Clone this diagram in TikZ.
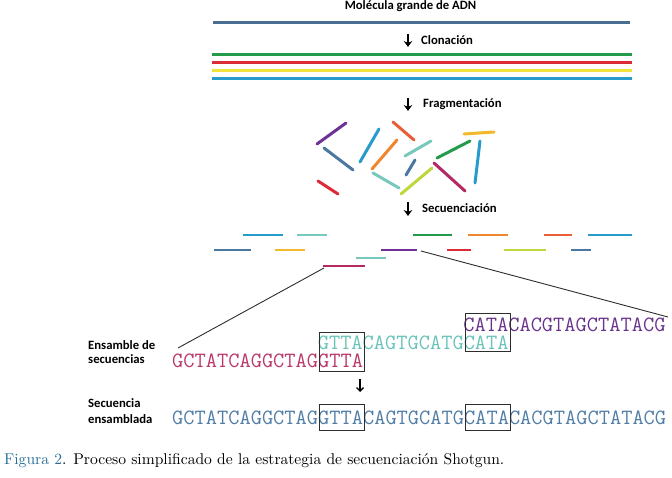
\documentclass[tikz,border=0pt]{standalone}
\usepackage{fontspec}
\usepackage{xcolor}
\usepackage{tikz}
\usetikzlibrary{arrows.meta,positioning}
\newfontfamily\calib{Carlito}
\newfontfamily\pief{lmroman10-regular.otf}
\definecolor{adn}{RGB}{74,110,145}
\definecolor{verde}{RGB}{35,155,75}
\definecolor{rojo}{RGB}{220,45,55}
\definecolor{amarillo}{RGB}{240,228,60}
\definecolor{celeste}{RGB}{40,155,205}
\definecolor{morado}{RGB}{110,50,150}
\definecolor{azulgris}{RGB}{75,120,160}
\definecolor{naranja}{RGB}{240,135,45}
\definecolor{naranjarojo}{RGB}{232,95,55}
\definecolor{turquesa}{RGB}{120,200,190}
\definecolor{lima}{RGB}{190,215,60}
\definecolor{ambar}{RGB}{242,185,45}
\definecolor{magenta}{RGB}{180,40,100}
\definecolor{secmag}{RGB}{185,55,105}
\definecolor{secturq}{RGB}{105,195,185}
\definecolor{secmor}{RGB}{105,50,140}
\definecolor{secazul}{RGB}{80,125,165}
\definecolor{capazul}{RGB}{40,110,150}
\definecolor{gris}{RGB}{45,45,45}

\begin{document}
\begin{tikzpicture}[x=1pt,y=-1pt,
    etiq/.style={font=\calib\bfseries\fontsize{12.7}{15}\selectfont,inner sep=0pt,anchor=base west},
    sec/.style={font=\ttfamily\fontsize{21.8}{24}\selectfont,inner sep=0pt,anchor=base west},
    flecha/.style={-{Stealth[length=6pt,width=8.5pt]},line width=2.2pt},
    flechita/.style={-{Straight Barb[length=3.5pt,width=7pt]},line width=1.4pt},
    caja/.style={draw=gris,line width=0.9pt,minimum width=45pt,inner sep=0pt},
    hebra/.style={line width=2.7pt},
    frag/.style={line width=3pt,line cap=round},
    lect/.style={line width=2.7pt}]
    \useasboundingbox (0,0) rectangle (672,478);
    % molecula y clones (1 unidad = 1 px, y hacia abajo)
    \node[etiq,anchor=base] (tit) at (410.5,10) {Molécula grande de ADN};
    \draw[hebra,adn] (213,22.3)--(630,22.3);
    \coordinate (f1a) at (408,34); \coordinate (f1b) at (408,47);
    \draw[flecha] (f1a)--(f1b);
    \node[etiq] (clon) at (421,45) {Clonación};
    \foreach \y/\c in {54.3/verde,62.3/rojo,70.3/amarillo,78.3/celeste}{
      \draw[hebra,\c] (212,\y)--(632,\y);}
    % fragmentos
    \coordinate (f2a) at (408,98); \coordinate (f2b) at (408,111);
    \draw[flecha] (f2a)--(f2b);
    \node[etiq] (frag) at (423,107.5) {Fragmentación};
    \foreach \xa/\ya/\xb/\yb/\c in {317/144/346/123/morado,324/148/353/170/azulgris,
        318/181/338/194/rojo,379/129/360/162/celeste,393/122/414/140/naranjarojo,
        397/140/372/169/naranja,431/141/405/156/turquesa,415/160/406/175/azulgris,
        373/173/399/188/turquesa,432/168/401/194/lima,464/134/494/132/ambar,
        437/158/470/141/verde,480/141/475/183/celeste,434/163/465/191/magenta}{
      \draw[frag,\c] (\xa,\ya)--(\xb,\yb);}
    % lecturas
    \coordinate (f3a) at (408,202); \coordinate (f3b) at (408,216);
    \draw[flecha] (f3a)--(f3b);
    \node[etiq] (secu) at (422,213) {Secuenciación};
    \foreach \xa/\xb/\y/\c in {243/283/235/celeste,297/327/235/turquesa,413/452/235/verde,
        468/508/235/naranja,544/572/235/naranjarojo,588/632/235/celeste,
        214/251/250/azulgris,275/305/250/ambar,381/417/250/morado,447/471/250/rojo,
        504/546/250/lima,571/591/250/azulgris,356/386/258/turquesa,323/365/266/magenta}{
      \draw[lect,\c] (\xa,\y)--(\xb,\y);}
    \coordinate (leeM) at (324,268); \coordinate (finM) at (178,348);
    \coordinate (leeP) at (421,251); \coordinate (finP) at (668,317);
    \draw[gris,line width=0.9pt] (leeM)--(finM);
    \draw[gris,line width=0.9pt] (leeP)--(finP);
    % ensamble
    \node[etiq] (ens1) at (88,349) {Ensamble de};
    \node[etiq] (ens2) at (88,363.5) {secuencias};
    \node[sec,secmag] (seqM) at (172,367.5) {GCTATCAGGCTAGGTTA};
    \node[sec,secturq] (seqT) at (317.6,349.5) {GTTACAGTGCATGCATA};
    \node[sec,secmor] (seqP) at (463.2,331) {CATACACGTAGCTATACG};
    \node[caja,minimum height=39pt] (cajaA) at (341.5,351.5) {};
    \node[caja,minimum height=38.4pt] (cajaB) at (488,332.5) {};
    \coordinate (f4a) at (360,379); \coordinate (f4b) at (360,392);
    \draw[flechita] (f4a)--(f4b);
    \node[etiq] (sen1) at (88,407) {Secuencia};
    \node[etiq] (sen2) at (88,423) {ensamblada};
    \node[sec,secazul] (seqF) at (172,424) {GCTATCAGGCTAGGTTACAGTGCATGCATACACGTAGCTATACG};
    \node[caja,minimum height=26pt] (cajaC) at (341.5,417) {};
    \node[caja,minimum height=26pt] (cajaD) at (488,417) {};
    % pie de figura
    \node[anchor=base west,inner sep=0pt,font=\pief\fontsize{15.6}{18}\selectfont] (pie) at (4,464.5)
      {\textcolor{capazul}{Figura 2}. Proceso simplificado de la estrategia de secuenciación Shotgun.};
\end{tikzpicture}
\end{document}
